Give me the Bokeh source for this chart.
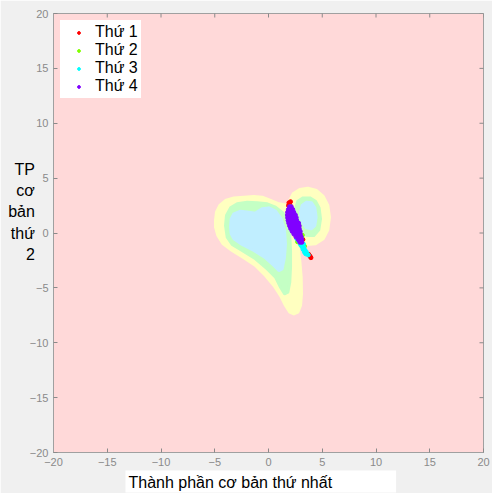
import math
from bokeh.plotting import figure
from bokeh.models import (Range1d, FixedTicker, LinearAxis, Legend, LegendItem, Title)
from bokeh.embed import file_html
from bokeh.resources import INLINE

# ---------------- data ----------------
TICKS = [-20, -15, -10, -5, 0, 5, 10, 15, 20]
AX_MIN, AX_MAX = -20, 20

# region outlines (data units)
YELLOW_LEFT_X = [-4.93, -4.84, -4.53, -4.00, -3.22, -2.29, -1.36, -0.59, 0.19, 0.96, 1.80, 2.20, 2.51, 2.73,
                 2.91, 3.04, 3.07, 2.98, 2.73, 2.36, 1.98, 1.58, 1.12, 0.50, -0.28, -1.21, -2.29, -3.38,
                 -4.22, -4.71, -4.93]
YELLOW_LEFT_Y = [1.14, 1.90, 2.51, 2.96, 3.20, 3.26, 3.33, 3.26, 2.96, 2.66, 2.51, 1.44, 0.23, -0.99,
                 -2.51, -4.02, -5.54, -6.61, -7.21, -7.37, -7.21, -6.61, -5.70, -4.78, -3.87, -2.96, -2.26, -1.59,
                 -0.99, -0.23, 0.53]
YELLOW_RIGHT_X = [1.98, 2.29, 2.91, 3.66, 4.47, 5.09, 5.52, 5.67, 5.52, 5.09, 4.37, 3.53, 2.91, 2.42, 2.11, 1.92]
YELLOW_RIGHT_Y = [2.96, 3.57, 3.96, 4.08, 3.87, 3.33, 2.51, 1.44, 0.29, -0.53, -0.99, -1.05, -0.74, -0.08, 0.83, 1.90]

GREEN_LEFT_X = [-4.00, -3.91, -3.53, -2.91, -1.98, -1.05, -0.12, 0.65, 1.36, 1.80, 1.98, 2.05, 2.05, 1.98,
                1.80, 1.49, 1.12, 0.65, -0.12, -1.21, -2.45, -3.38, -3.84]
GREEN_LEFT_Y = [0.68, 1.59, 2.29, 2.66, 2.81, 2.75, 2.66, 2.35, 1.81, 0.99, -0.23, -1.59, -3.11, -4.48,
                -5.39, -5.54, -4.94, -4.02, -3.27, -2.35, -1.59, -1.05, -0.38]
GREEN_RIGHT_X = [2.51, 2.73, 3.22, 3.85, 4.37, 4.71, 4.84, 4.68, 4.22, 3.60, 3.07, 2.73, 2.54]
GREEN_RIGHT_Y = [2.20, 2.90, 3.20, 3.20, 2.90, 2.29, 1.29, 0.29, -0.23, -0.23, 0.17, 0.83, 1.59]

BLUE_LEFT_X = [-3.53, -3.47, -3.22, -2.60, -1.83, -1.21, -0.59, 0.03, 0.65, 1.18, 1.49, 1.58, 1.49, 1.27,
               0.96, 0.50, -0.28, -1.36, -2.45, -3.22, -3.47]
BLUE_LEFT_Y = [0.53, 1.29, 1.75, 1.99, 1.90, 1.81, 2.20, 2.29, 1.99, 1.29, 0.23, -0.99, -2.20, -3.27,
               -3.42, -2.96, -2.26, -1.59, -1.05, -0.53, -0.08]
BLUE_RIGHT_X = [2.98, 3.13, 3.53, 4.00, 4.31, 4.43, 4.31, 3.97, 3.53, 3.19, 3.01]
BLUE_RIGHT_Y = [1.90, 2.51, 2.81, 2.75, 2.29, 1.44, 0.68, 0.38, 0.47, 0.93, 1.44]

# observations
X1 = [1.90, 1.98, 1.86, 2.05, 3.80, 3.88, 3.95, 3.75, 2.30, 3.20]
Y1 = [2.75, 2.60, 2.50, 2.85, -2.05, -2.15, -2.25, -1.95, 1.20, -0.60]

X2 = [3.10, 2.95, 1.82, 2.70, 3.35, 2.05, 3.15, 2.60]
Y2 = [-0.40, -0.55, 1.55, -0.80, -1.20, 2.40, -0.20, 0.20]

X3 = [2.62, 2.80, 2.95, 3.05, 3.18, 3.12, 3.28, 3.22, 3.38, 3.35, 3.50, 3.46, 3.60, 3.70, 3.00, 3.25,
      2.45, 1.90, 2.70]
Y3 = [-0.50, -0.70, -0.95, -0.80, -1.05, -1.25, -1.30, -1.50, -1.55, -1.75, -1.70, -1.90, -1.90, -2.00,
      -1.10, -1.00, 0.30, 2.10, 0.95]

X4 = [1.95, 2.12,
      1.85, 2.05, 2.25,
      1.78, 1.98, 2.18, 2.35,
      1.76, 1.96, 2.16, 2.36, 2.50,
      1.78, 1.98, 2.18, 2.38, 2.58,
      1.82, 2.02, 2.22, 2.42, 2.62,
      1.88, 2.08, 2.28, 2.48, 2.68, 2.80,
      1.96, 2.16, 2.36, 2.56, 2.76, 2.86,
      2.06, 2.26, 2.46, 2.66, 2.86,
      2.20, 2.40, 2.60, 2.80, 2.95,
      2.36, 2.56, 2.76, 2.96,
      2.55, 2.75, 2.95, 3.05,
      2.75, 2.92, 3.10,
      2.92, 3.10]
Y4 = [2.40, 2.40,
      2.15, 2.15, 2.15,
      1.90, 1.90, 1.90, 1.90,
      1.65, 1.65, 1.65, 1.65, 1.65,
      1.40, 1.40, 1.40, 1.40, 1.40,
      1.15, 1.15, 1.15, 1.15, 1.15,
      0.90, 0.90, 0.90, 0.90, 0.90, 0.90,
      0.65, 0.65, 0.65, 0.65, 0.65, 0.65,
      0.40, 0.40, 0.40, 0.40, 0.40,
      0.15, 0.15, 0.15, 0.15, 0.15,
      -0.10, -0.10, -0.10, -0.10,
      -0.35, -0.35, -0.35, -0.35,
      -0.60, -0.60, -0.60,
      -0.85, -0.85]

SERIES = ["Thứ 1", "Thứ 2", "Thứ 3", "Thứ 4"]
COLORS = ["#ff0000", "#80ff00", "#00ffff", "#8000ff"]

X_LABEL = "Thành phần cơ bản thứ nhất"
Y_LABEL = "TP\ncơ\nbản\nthứ\n2\n\n"

# ---------------- figure ----------------
FONT = "Liberation Sans"
TICK_COLOR = "#8a8a8a"
p = figure(width=492, height=493, output_backend="svg", toolbar_location=None,
           x_range=Range1d(AX_MIN, AX_MAX), y_range=Range1d(AX_MIN, AX_MAX),
           x_axis_location=None, y_axis_location=None,
           min_border_left=53, min_border_right=9, min_border_top=13, min_border_bottom=41)
p.background_fill_color = "#ffd9d9"
p.border_fill_color = "#f0f0f0"
p.outline_line_color = "#a0a0a0"
p.xgrid.visible = False
p.ygrid.visible = False

def make_axis():
    ax = LinearAxis(ticker=FixedTicker(ticks=TICKS))
    ax.major_tick_in = 4
    ax.major_tick_out = 0
    ax.minor_tick_line_color = None
    ax.axis_line_color = "#a0a0a0"
    ax.major_tick_line_color = TICK_COLOR
    ax.major_label_text_color = TICK_COLOR
    ax.major_label_text_font = FONT
    ax.major_label_text_font_size = "11px"
    ax.major_label_standoff = 5
    return ax

xaxis = make_axis()
p.add_layout(xaxis, "below")
yaxis = make_axis()
yaxis.axis_label = Y_LABEL
yaxis.axis_label_orientation = "horizontal"
yaxis.axis_label_standoff = -8
yaxis.axis_label_text_font = FONT
yaxis.axis_label_text_font_size = "16px"
yaxis.axis_label_text_font_style = "normal"
yaxis.axis_label_text_color = "#000000"
yaxis.axis_label_text_line_height = 1.25
yaxis.axis_label_text_align = "left"
if "axis_label_background_fill_color" in yaxis.properties():
    yaxis.axis_label_background_fill_color = "white"
p.add_layout(yaxis, "left")

# inner ticks on top and right edges (box on)
p.scatter(TICKS, [AX_MAX] * len(TICKS), marker="dash", angle=math.pi / 2, size=8, line_color=TICK_COLOR)
p.scatter([AX_MAX] * len(TICKS), TICKS, marker="dash", size=8, line_color=TICK_COLOR)

# regions
for xs, ys, col in [(YELLOW_LEFT_X, YELLOW_LEFT_Y, "#ffffc0"), (YELLOW_RIGHT_X, YELLOW_RIGHT_Y, "#ffffc0"),
                    (GREEN_LEFT_X, GREEN_LEFT_Y, "#c4ffc4"), (GREEN_RIGHT_X, GREEN_RIGHT_Y, "#c4ffc4"),
                    (BLUE_LEFT_X, BLUE_LEFT_Y, "#c0eeff"), (BLUE_RIGHT_X, BLUE_RIGHT_Y, "#c0eeff")]:
    p.patch(xs, ys, fill_color=col, line_color=col, line_width=3, line_join="round")

# observations
rs = []
for xs, ys, col in [(X1, Y1, COLORS[0]), (X2, Y2, COLORS[1]), (X3, Y3, COLORS[2]), (X4, Y4, COLORS[3])]:
    rs.append(p.scatter(xs, ys, marker="circle", size=4, fill_color=col, line_color=col))

legend = Legend(items=[LegendItem(label=s, renderers=[r]) for s, r in zip(SERIES, rs)],
                location="top_left", margin=5, padding=3, spacing=0,
                glyph_width=31, glyph_height=7, label_height=16, label_standoff=1,
                label_text_font=FONT, label_text_font_size="16px", label_text_color="#000000",
                border_line_color="#ffb3b3", border_line_width=2,
                background_fill_color="white", background_fill_alpha=1)
p.add_layout(legend, "center")

xtitle = Title(text=X_LABEL, align="left", offset=72, standoff=0,
               text_font=FONT, text_font_size="16px", text_font_style="normal", text_color="#000000",
               background_fill_color="white", padding=dict(left=3, right=64, top=3, bottom=2))
p.add_layout(xtitle, "below")

open("out.html", "w").write(file_html(p, INLINE))
